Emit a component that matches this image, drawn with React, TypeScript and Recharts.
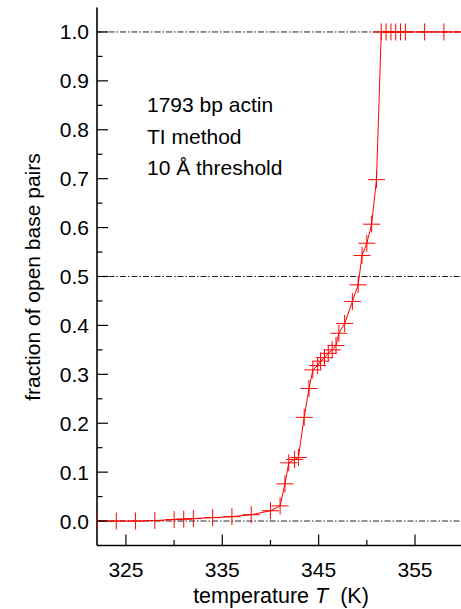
import React from 'react';
import { LineChart, Line, XAxis, YAxis, ReferenceLine } from 'recharts';

const temperatures = [
  322, 324, 326, 328, 330, 331, 332, 334, 336, 338, 340, 341, 341.5, 341.9, 342.5, 342.9,
  343.5, 344.0, 344.4, 344.9, 345.2, 345.6, 346.0, 346.4, 346.8, 347.1, 347.7, 348.5,
  349.1, 349.5, 350.0, 350.5, 351.0, 351.5, 352.0, 352.5, 353.0, 353.5, 354.0, 356.0, 358.0, 360.0,
];
const openFractions = [
  0, 0, 0, 0.001, 0.003, 0.004, 0.005, 0.007, 0.009, 0.013, 0.021, 0.031, 0.076, 0.119, 0.126, 0.13,
  0.212, 0.271, 0.309, 0.318, 0.327, 0.334, 0.343, 0.35, 0.359, 0.384, 0.404, 0.449,
  0.483, 0.543, 0.568, 0.607, 0.698, 1.0, 1.0, 1.0, 1.0, 1.0, 1.0, 1.0, 1.0, 1.0,
];
const xTicks = [325, 330, 335, 340, 345, 350, 355, 360];
const xLabeled = [325, 335, 345, 355];
const yTicks = [0, 0.05, 0.1, 0.15, 0.2, 0.25, 0.3, 0.35, 0.4, 0.45, 0.5, 0.55, 0.6, 0.65, 0.7, 0.75, 0.8, 0.85, 0.9, 0.95, 1.0];
const refLevels = [0, 0.5, 1.0];
const xDomain = [322, 360];
const yDomain = [-0.05, 1.05];
const yTitle = 'fraction of open base pairs';
const xTitleParts = ['temperature ', 'T', '(K)'];
const notes = ['1793 bp actin', 'TI method', '10 Å threshold'];

const data = temperatures.map((t, i) => ({ t, f: openFractions[i] }));

const FONT = '"Liberation Sans", Arial, Helvetica, sans-serif';
const MAJOR = 11;
const MINOR = 5.5;
const isMajorY = (v: number) => Math.round(v * 100) % 10 === 0;

const BottomTick = (props: any) => {
  const { x, y, payload } = props;
  const v = payload.value;
  const major = xLabeled.includes(v);
  return (
    <g>
      <line x1={x} x2={x} y1={y} y2={y - (major ? MAJOR : MINOR)} stroke="#000" strokeWidth={1.2} />
      {major && (
        <text x={x} y={y + 31} textAnchor="middle" fontSize={21} fontFamily={FONT} fill="#000">
          {v}
        </text>
      )}
    </g>
  );
};

const TopTick = (props: any) => {
  const { x, y, payload } = props;
  const major = xLabeled.includes(payload.value);
  return <line x1={x} x2={x} y1={y} y2={y + (major ? MAJOR : MINOR)} stroke="#000" strokeWidth={1.2} />;
};

const LeftTick = (props: any) => {
  const { x, y, payload } = props;
  const v = payload.value;
  const major = isMajorY(v);
  return (
    <g>
      <line x1={x} x2={x + (major ? MAJOR : MINOR)} y1={y} y2={y} stroke="#000" strokeWidth={1.2} />
      {major && (
        <text x={x - 8} y={y + 7.5} textAnchor="end" fontSize={21} fontFamily={FONT} fill="#000">
          {v.toFixed(1)}
        </text>
      )}
    </g>
  );
};

const RightTick = (props: any) => {
  const { x, y, payload } = props;
  const major = isMajorY(payload.value);
  return <line x1={x} x2={x - (major ? MAJOR : MINOR)} y1={y} y2={y} stroke="#000" strokeWidth={1.2} />;
};

const renderCross = (p: any) => {
  const { cx, cy, index } = p;
  if (cx == null || cy == null) return <g key={`c${index}`} />;
  return (
    <path
      key={`c${index}`}
      d={`M${cx - 8.5},${cy}h17M${cx},${cy - 8.5}v17`}
      stroke="#ff0000"
      strokeWidth={1}
      fill="none"
    />
  );
};

export default function App() {
  return (
    <div style={{ position: 'absolute', left: 0, top: 0, width: 461, height: 609, overflow: 'hidden', background: '#fff' }}>
      <LineChart
        width={470}
        height={609}
        data={data}
        margin={{ top: 7.5, right: 6.8, bottom: 0, left: 0 }}
      >
        <XAxis
          dataKey="t"
          type="number"
          domain={xDomain}
          ticks={xTicks}
          interval={0}
          height={63.5}
          tickSize={0}
          tickMargin={0}
          tickLine={false}
          axisLine={{ stroke: '#000', strokeWidth: 1.6 }}
          tick={<BottomTick />}
          allowDataOverflow
        />
        <XAxis
          xAxisId="top"
          orientation="top"
          type="number"
          domain={xDomain}
          ticks={xTicks}
          interval={0}
          height={0}
          tickSize={0}
          tickMargin={0}
          tickLine={false}
          axisLine={{ stroke: '#000', strokeWidth: 1.6 }}
          tick={<TopTick />}
          allowDataOverflow
        />
        <YAxis
          type="number"
          domain={yDomain}
          ticks={yTicks}
          interval={0}
          width={97}
          tickSize={0}
          tickMargin={0}
          tickLine={false}
          axisLine={{ stroke: '#000', strokeWidth: 1.6 }}
          tick={<LeftTick />}
          allowDataOverflow
        />
        <YAxis
          yAxisId="right"
          orientation="right"
          type="number"
          domain={yDomain}
          ticks={yTicks}
          interval={0}
          width={0}
          tickSize={0}
          tickMargin={0}
          tickLine={false}
          axisLine={{ stroke: '#000', strokeWidth: 1.6 }}
          tick={<RightTick />}
          allowDataOverflow
        />
        {refLevels.map((lv) => (
          <ReferenceLine key={lv} y={lv} stroke="#222" strokeWidth={1} strokeDasharray="6 2 1.5 2" />
        ))}
        <Line
          type="linear"
          dataKey="f"
          stroke="#ff0000"
          strokeWidth={1}
          dot={renderCross}
          activeDot={false}
          isAnimationActive={false}
        />
      </LineChart>
      <svg
        width={461}
        height={609}
        style={{ position: 'absolute', left: 0, top: 0, pointerEvents: 'none' }}
      >
        <text
          transform="translate(40,277) rotate(-90)"
          textAnchor="middle"
          fontSize={21}
          fontFamily={FONT}
          fill="#000"
        >
          {yTitle}
        </text>
        <text x={281} y={603} textAnchor="middle" fontSize={21.5} fontFamily={FONT} fill="#000">
          {xTitleParts[0]}
          <tspan fontStyle="italic">{xTitleParts[1]}</tspan>
          <tspan dx={12}>{xTitleParts[2]}</tspan>
        </text>
        {notes.map((n, i) => (
          <text key={n} x={147} y={112 + i * 31.5} fontSize={21} fontFamily={FONT} fill="#000">
            {n}
          </text>
        ))}
      </svg>
    </div>
  );
}
